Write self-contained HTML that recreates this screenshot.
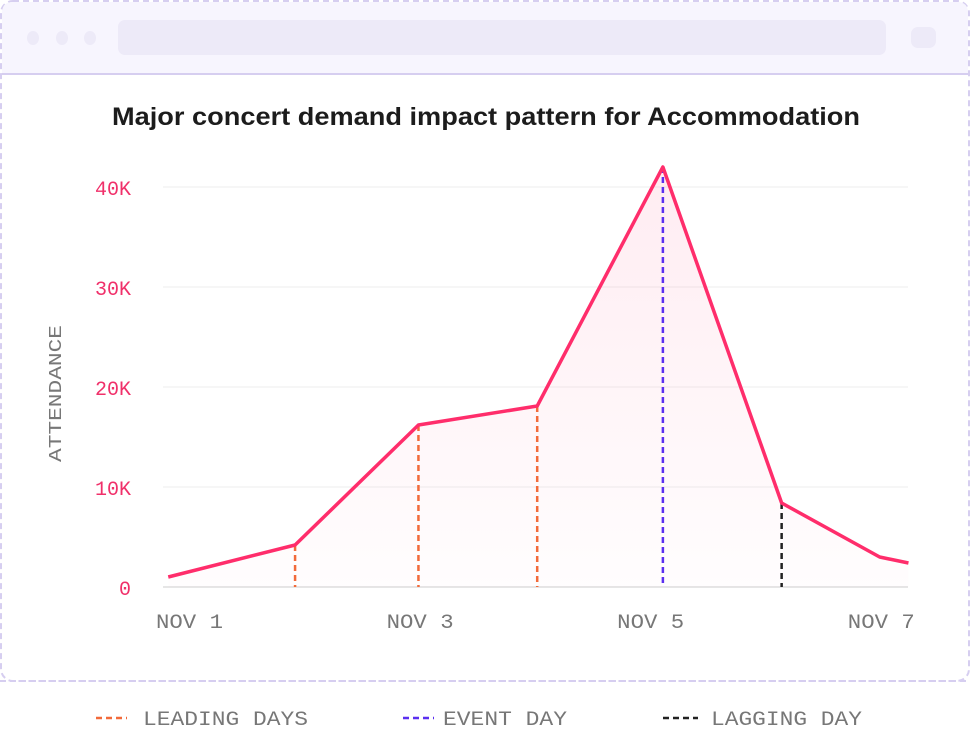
<!DOCTYPE html>
<html><head><meta charset="utf-8"><style>
body{margin:0;width:970px;height:738px;background:#fff;font-family:"Liberation Sans",sans-serif;overflow:hidden}
</style></head><body>
<svg width="970" height="738">
<defs><linearGradient id="g" x1="0" y1="0" x2="0" y2="1"><stop offset="0" stop-color="#ff2d6b" stop-opacity="0.09"/><stop offset="1" stop-color="#ff2d6b" stop-opacity="0.01"/></linearGradient></defs>
<rect x="1" y="1" width="968" height="680" rx="12" fill="#fff" stroke="#d6cef0" stroke-width="2" stroke-dasharray="6 4"/>
<path d="M2 74 V13 Q2 2 13 2 H957 Q968 2 968 13 V74 Z" fill="#f7f5fe"/>
<line x1="2" y1="74" x2="968" y2="74" stroke="#d6cef0" stroke-width="2"/>
<ellipse cx="33" cy="38" rx="6" ry="7" fill="#edeaf8"/>
<ellipse cx="62" cy="38" rx="6" ry="7" fill="#edeaf8"/>
<ellipse cx="90" cy="38" rx="6" ry="7" fill="#edeaf8"/>
<rect x="118" y="20" width="768" height="35" rx="7" fill="#edeaf8"/>
<rect x="911" y="27" width="25" height="21" rx="7" fill="#edeaf8"/>
<line x1="0" y1="681" x2="970" y2="681" stroke="#d6cef0" stroke-width="2" stroke-dasharray="6 4"/>
<text x="112" y="125" textLength="748" lengthAdjust="spacingAndGlyphs" font-size="25" font-weight="bold" fill="#1c1c1c">Major concert demand impact pattern for Accommodation</text>
<g id="plot"></g>
<g font-family="Liberation Mono,monospace" font-size="20" fill="#777">
<line x1="96" y1="718" x2="127" y2="718" stroke="#f26a3a" stroke-width="2.5" stroke-dasharray="6 4"/>
<text x="143" y="725" textLength="165" lengthAdjust="spacingAndGlyphs">LEADING DAYS</text>
<line x1="403" y1="718" x2="434" y2="718" stroke="#5b2ff0" stroke-width="2.5" stroke-dasharray="6 4"/>
<text x="443" y="725" textLength="124" lengthAdjust="spacingAndGlyphs">EVENT DAY</text>
<line x1="663" y1="718" x2="698" y2="718" stroke="#222" stroke-width="2.5" stroke-dasharray="6 4"/>
<text x="711" y="725" textLength="151" lengthAdjust="spacingAndGlyphs">LAGGING DAY</text>
</g>
</svg>
<script>
const days=[-0.18,0.92,1.99,3.02,4.11,5.14,5.99,6.24];
const attendance=[1.0,4.2,16.2,18.1,42.0,8.4,3.0,2.4];
const markerIdx=[1,2,3,4,5];
const markerType=["lead","lead","lead","event","lag"];
const yTicks=[0,10,20,30,40];
const yTickLabels=["0","10K","20K","30K","40K"];
const xTicks=[0,2,4,6];
const xTickLabels=["NOV 1","NOV 3","NOV 5","NOV 7"];
const NS="http://www.w3.org/2000/svg";
const X=d=>189+d*115.3, Y=v=>587-v*10;
const g=document.getElementById('plot');
function mk(t,a,p){const e=document.createElementNS(NS,t);for(const k in a)e.setAttribute(k,a[k]);(p||g).appendChild(e);return e;}
yTicks.forEach((v,i)=>{
 const l=mk('line',{x1:163,x2:908,y1:Y(v),y2:Y(v),stroke:i==0?'#e6e6e6':'#eeeeee','stroke-width':i==0?2:1});
 
 
 const t=mk('text',{x:131,y:Y(v)+8,'text-anchor':'end','font-family':'Liberation Mono,monospace','font-size':20,fill:'#f0306a'});
 t.textContent=yTickLabels[i];
 
 
});
xTicks.forEach((d,i)=>{
 const t=mk('text',{x:X(d)-33,y:628,textLength:67,lengthAdjust:'spacingAndGlyphs','font-family':'Liberation Mono,monospace','font-size':20,fill:'#777'});
 t.textContent=xTickLabels[i];
 
 
});
const at=mk('text',{transform:'translate(61,462) rotate(-90)',textLength:137,lengthAdjust:'spacingAndGlyphs','font-family':'Liberation Mono,monospace','font-size':18,fill:'#777'});
at.textContent='ATTENDANCE';


const pts=days.map((d,i)=>X(d)+','+Y(attendance[i]));
const area=mk('path',{d:'M'+X(days[0])+','+Y(0)+' L'+pts.join(' L')+' L'+X(days[days.length-1])+','+Y(0)+' Z',fill:'url(#g)'});


const col={lead:'#f26a3a',event:'#5b2ff0',lag:'#222'};
markerIdx.forEach((k,i)=>{
 const l=mk('line',{x1:X(days[k]),x2:X(days[k]),y1:Y(attendance[k]),y2:Y(0),stroke:col[markerType[i]],'stroke-width':2.5,'stroke-dasharray':'6 4'});
 
 
});
const line=mk('polyline',{points:pts.join(' '),fill:'none',stroke:'#ff2d6b','stroke-width':3.5,'stroke-linejoin':'round'});


</script>
</body></html>
